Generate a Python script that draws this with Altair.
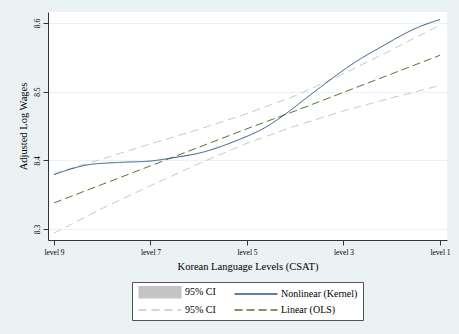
import altair as alt
import pandas as pd

# ---- data ----
levels = [9, 8, 7, 6, 5, 4, 3, 2, 1]
ols_fit = [8.338, 8.365, 8.392, 8.419, 8.446, 8.472, 8.499, 8.526, 8.553]
ols_ci_upper = [8.381, 8.402, 8.424, 8.445, 8.468, 8.494, 8.526, 8.561, 8.597]
ols_ci_lower = [8.294, 8.330, 8.363, 8.395, 8.425, 8.450, 8.472, 8.491, 8.509]

kernel_levels = [9.0, 8.67, 8.25, 7.63, 7.0, 6.6, 5.91, 5.21, 4.67, 4.25, 3.84,
                 3.45, 2.80, 2.10, 1.77, 1.41, 1.0]
kernel_fit = [8.379, 8.387, 8.394, 8.397, 8.399, 8.403, 8.412, 8.429, 8.446, 8.465,
              8.487, 8.508, 8.541, 8.570, 8.583, 8.595, 8.605]

x_ticks = [9, 7, 5, 3, 1]
y_ticks = [8.3, 8.4, 8.5, 8.6]

series_keys = ["ci_band", "kernel", "ci_line", "ols"]
series_colors = ["#c4c4c4", "#2a5580", "#c8c8c8", "#55752f"]
series_dash = [[1, 0], [1, 0], [8, 5], [8, 4]]

# ---- tables ----
rows = []
for lv, v in zip(levels, ols_ci_upper):
    rows.append({"level": lv, "value": v, "series": "ci_line", "line": "upper"})
for lv, v in zip(levels, ols_ci_lower):
    rows.append({"level": lv, "value": v, "series": "ci_line", "line": "lower"})
ci_df = pd.DataFrame(rows)
ols_df = pd.DataFrame({"level": levels, "value": ols_fit, "series": "ols", "line": "ols"})
ker_df = pd.DataFrame({"level": kernel_levels, "value": kernel_fit, "series": "kernel", "line": "kernel"})

label_expr = ("datum.value == 'kernel' ? 'Nonlinear (Kernel)' : "
              "(datum.value == 'ols' ? 'Linear (OLS)' : '95% CI')")

band_path = "M-10.75,-2.75H10.75" + "".join(
    f"M-10.75,{y:.2f}H10.75" for y in [-2.25, -1.75, -1.25, -0.75, -0.25, 0.25, 0.75, 1.25, 1.75, 2.25, 2.75])
line_path = "M-10.75,0H10.75"

legend = alt.Legend(
    title=None, orient="none", legendX=84, legendY=270, columns=2,
    direction="horizontal",
    labelExpr=label_expr,
    symbolType=alt.ExprRef(f"datum.value == 'ci_band' ? '{band_path}' : '{line_path}'"),
    symbolSize=16, symbolOffset=18, labelOffset=20,
    columnPadding=15, rowPadding=4, padding=5,
    fillColor="white", strokeColor="#555555",
    labelFont="Liberation Serif", labelFontSize=10, labelColor="#000000",
)

color = alt.Color("series:N", scale=alt.Scale(domain=series_keys, range=series_colors), legend=legend)
dash = alt.StrokeDash("series:N", scale=alt.Scale(domain=series_keys, range=series_dash), legend=legend)

xenc = alt.X("level:Q",
             scale=alt.Scale(domain=[0.855, 9.124], reverse=True, nice=False, zero=False),
             axis=alt.Axis(values=x_ticks, labelExpr="'level ' + datum.value",
                           title="Korean Language Levels (CSAT)", grid=False,
                           tickSize=5, labelPadding=3, titlePadding=6,
                           labelFontSize=7.5, titleFontSize=10.5))
yenc = alt.Y("value:Q",
             scale=alt.Scale(domain=[8.284, 8.616], nice=False, zero=False),
             axis=alt.Axis(values=y_ticks, format=".1f", title="Adjusted Log Wages",
                           labelAngle=270, labelAlign="center", labelBaseline="bottom",
                           tickSize=5, labelPadding=2, titlePadding=5,
                           labelFontSize=7.5, titleFontSize=10.5,
                           grid=True, gridColor="#eaf2f3", gridWidth=1))

ci = alt.Chart(ci_df).mark_line(strokeWidth=1.0).encode(
    x=xenc, y=yenc, color=color, strokeDash=dash, detail="line:N")
ols = alt.Chart(ols_df).mark_line(strokeWidth=1.0).encode(
    x=xenc, y=yenc, color=color, strokeDash=dash)
ker = alt.Chart(ker_df).mark_line(strokeWidth=1.0, interpolate="monotone").encode(
    x=xenc, y=yenc, color=color, strokeDash=dash)

chart = alt.layer(ci, ols, ker).properties(
    width=399, height=228,
    autosize=alt.AutoSizeParams(type="none"),
    padding={"left": 48, "top": 12, "right": 12, "bottom": 94},
    background="#eaf2f3",
).configure_view(fill="white", stroke=None).configure_axis(
    labelFont="Liberation Serif", titleFont="Liberation Serif",
    labelColor="#000000", titleColor="#000000", titleFontWeight="normal",
    domainColor="#333333", tickColor="#333333", domainWidth=1, tickWidth=1,
)

chart.save("out.html", embed_options={"renderer": "svg", "actions": False})
